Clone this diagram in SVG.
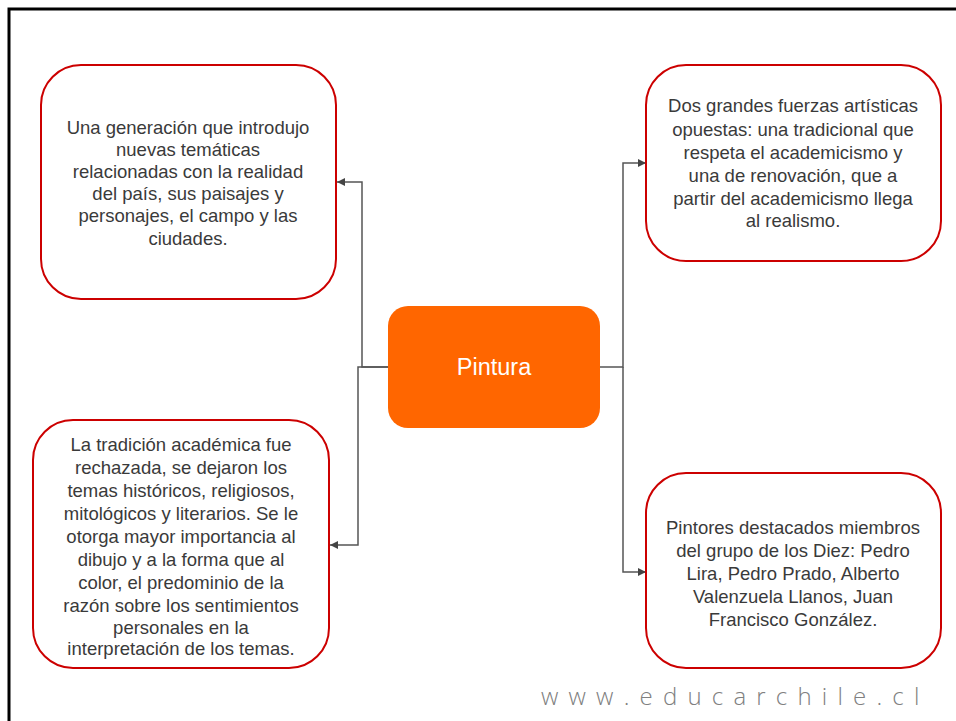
<svg xmlns="http://www.w3.org/2000/svg" width="956" height="721" viewBox="0 0 956 721">
<defs>
<marker id="arr" viewBox="0 0 10 10" refX="10" refY="5" markerWidth="8" markerHeight="8" markerUnits="userSpaceOnUse" orient="auto">
<path d="M0,0 L10,5 L0,10 z" fill="#444"/>
</marker>
<style>
.box{fill:#fff;stroke:#cc0000;stroke-width:2}
.t{font-family:"Liberation Sans",Arial,sans-serif;font-size:18.5px;fill:#3a3a3a;text-anchor:middle}
.c{fill:none;stroke:#555;stroke-width:1.5}
</style>
</defs>
<rect width="956" height="721" fill="#fff"/>
<path d="M9,721 V9 H956" fill="none" stroke="#000" stroke-width="3"/>
<g id="connectors">
<path class="c" d="M388,367 H362 V182 H337" marker-end="url(#arr)"/>
<path class="c" d="M388,367 H358 V545 H330" marker-end="url(#arr)"/>
<path class="c" d="M600,367 H623 V163 H646" marker-end="url(#arr)"/>
<path class="c" d="M623,367 V572 H646" marker-end="url(#arr)"/>
</g>
<g id="center">
<rect x="388" y="306" width="212" height="122" rx="20" fill="#ff6600"/>
<text x="494" y="375" font-family="'Liberation Sans',Arial,sans-serif" font-size="23.5" fill="#fff" text-anchor="middle">Pintura</text>
</g>
<g id="topleft">
<rect class="box" x="41" y="65" width="295" height="234" rx="40"/>
<text class="t" x="188" y="134">Una generación que introdujo</text>
<text class="t" x="188" y="156">nuevas temáticas</text>
<text class="t" x="188" y="178">relacionadas con la realidad</text>
<text class="t" x="188" y="200">del país, sus paisajes y</text>
<text class="t" x="188" y="222">personajes, el campo y las</text>
<text class="t" x="188" y="245">ciudades.</text>
</g>
<g id="bottomleft">
<rect class="box" x="33" y="420" width="296" height="248" rx="40"/>
<text class="t" x="181" y="451">La tradición académica fue</text>
<text class="t" x="181" y="474">rechazada, se dejaron los</text>
<text class="t" x="181" y="497">temas históricos, religiosos,</text>
<text class="t" x="181" y="520">mitológicos y literarios. Se le</text>
<text class="t" x="181" y="543">otorga mayor importancia al</text>
<text class="t" x="181" y="566">dibujo y a la forma que al</text>
<text class="t" x="181" y="589">color, el predominio de la</text>
<text class="t" x="181" y="612">razón sobre los sentimientos</text>
<text class="t" x="181" y="634">personales en la</text>
<text class="t" x="181" y="655">interpretación de los temas.</text>
</g>
<g id="topright">
<rect class="box" x="646" y="65" width="295" height="196" rx="40"/>
<text class="t" x="793" y="112">Dos grandes fuerzas artísticas</text>
<text class="t" x="793" y="136">opuestas: una tradicional que</text>
<text class="t" x="793" y="159">respeta el academicismo y</text>
<text class="t" x="793" y="182">una de renovación, que a</text>
<text class="t" x="793" y="205">partir del academicismo llega</text>
<text class="t" x="793" y="227">al realismo.</text>
</g>
<g id="bottomright">
<rect class="box" x="646" y="473" width="295" height="195" rx="40"/>
<text class="t" x="793" y="534">Pintores destacados miembros</text>
<text class="t" x="793" y="557">del grupo de los Diez: Pedro</text>
<text class="t" x="793" y="580">Lira, Pedro Prado, Alberto</text>
<text class="t" x="793" y="603">Valenzuela Llanos, Juan</text>
<text class="t" x="793" y="626">Francisco González.</text>
</g>
<text x="541" y="705" font-family="'Open Sans','Liberation Sans',sans-serif" font-size="24" font-weight="300" fill="#808080" letter-spacing="10.2">www.educarchile.cl</text>
</svg>
